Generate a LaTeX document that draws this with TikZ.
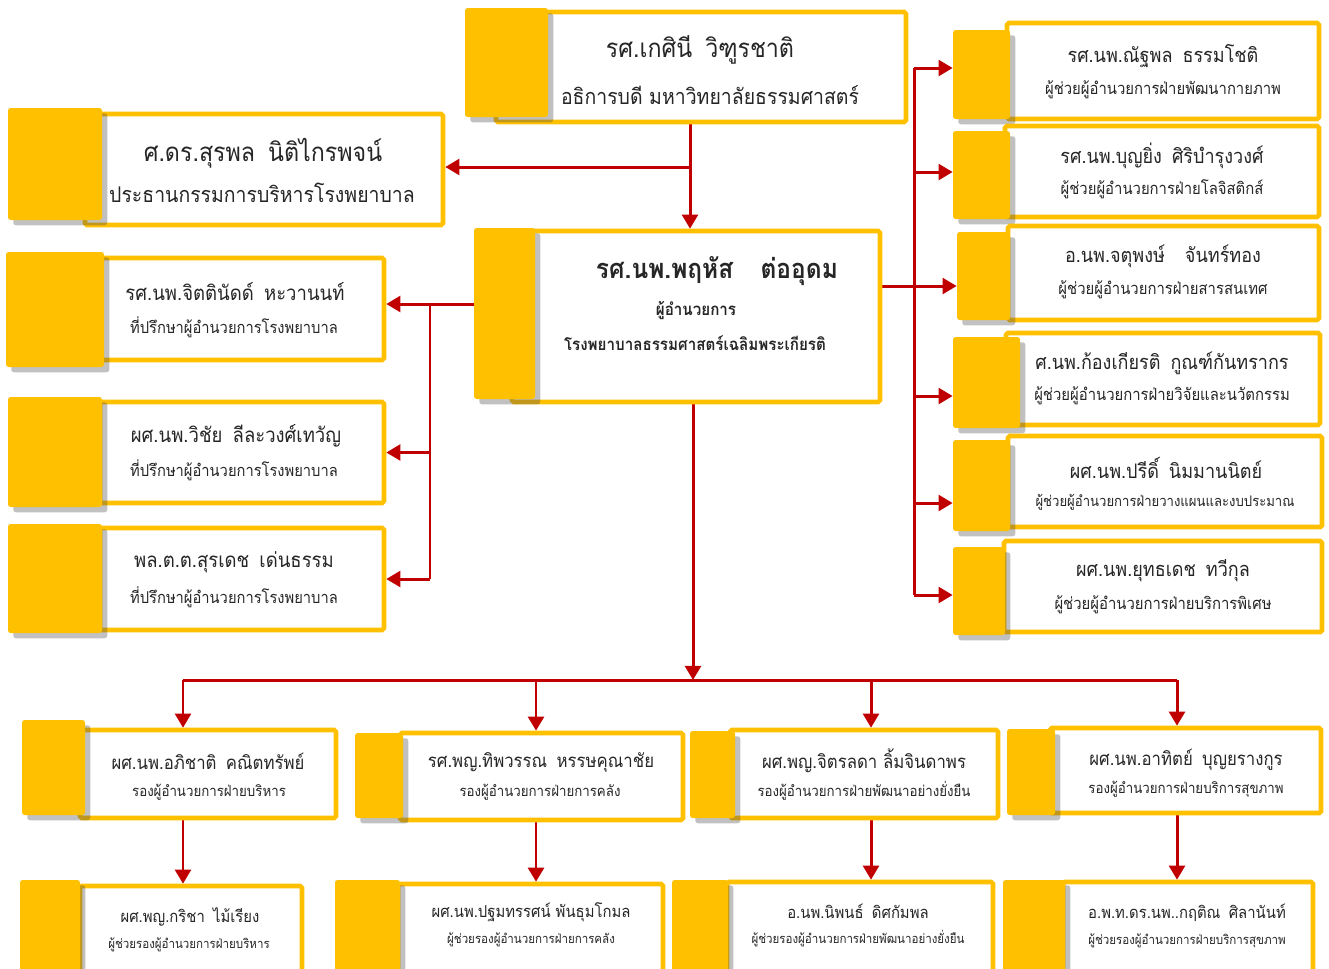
\documentclass[tikz,border=0pt]{standalone}
\usepackage{fontspec}
\newfontfamily\thaifont[Script=Thai, FakeStretch=0.9]{Loma}
\usetikzlibrary{fit, shadows, arrows.meta}

\pgfdeclarelayer{bg}
\pgfsetlayers{bg,main}

\definecolor{gold}{HTML}{FFC000}
\definecolor{linkred}{HTML}{C00000}

\tikzset{
    cardbox/.style={draw=gold, line width=2.6pt, fill=white, inner sep=0pt, rounded corners=1pt},
    tab/.style={fill=gold, inner sep=0pt, rounded corners=1.5pt,
        drop shadow={shadow xshift=3pt, shadow yshift=-3pt, opacity=0.35, fill=black!70}},
    link/.style={draw=linkred, line width=1.7pt, -{Triangle[length=8pt, width=9pt]}},
    trunk/.style={draw=linkred, line width=1.7pt},
    txt/.style={text=black!85, inner sep=0pt},
    hname/.style={txt, font=\thaifont\fontsize{14.7}{18}\selectfont},
    hsub/.style={txt, font=\thaifont\fontsize{12.3}{15}\selectfont},
    dname/.style={txt, font=\thaifont\bfseries\fontsize{15.5}{18}\selectfont},
    dsub/.style={txt, font=\thaifont\bfseries\fontsize{9.6}{12}\selectfont},
    aname/.style={txt, font=\thaifont\fontsize{11.7}{14}\selectfont},
    asub/.style={txt, font=\thaifont\fontsize{9.3}{11}\selectfont},
    rname/.style={txt, font=\thaifont\fontsize{11.4}{14}\selectfont},
    rsub/.style={txt, font=\thaifont\fontsize{9.4}{11}\selectfont},
    vname/.style={txt, font=\thaifont\fontsize{10.6}{13}\selectfont},
    vsub/.style={txt, font=\thaifont\fontsize{8.4}{10}\selectfont},
    pname/.style={txt, font=\thaifont\fontsize{9.4}{12}\selectfont},
    psub/.style={txt, font=\thaifont\fontsize{7.3}{9}\selectfont},
}

% card = white box with gold frame + gold tab on its left
\newcommand{\orgcard}[3]{%
    \node[cardbox, fit={#2}] (#1) {};
    \node[tab, fit={#3}] (#1t) {};
}
\newcommand{\gap}{\hspace{0.5em}}

\begin{document}
\begin{tikzpicture}[x=0.02cm, y=-0.02cm]

    \useasboundingbox (0,0) rectangle (1329,968);
    \clip (0,0) rectangle (1329,968);

    % ---- top: president, chair, director
    \orgcard{pres}{(496,12) (906,122)}{(465,8) (548,117)}
    \node[hname] (pres-n) at (700,50) {รศ.เกศินี\gap วิฑูรชาติ};
    \node[hsub] (pres-s) at (710,95) {อธิการบดี มหาวิทยาลัยธรรมศาสตร์};

    \orgcard{chair}{(85,114) (443,225)}{(8,108) (102,220)}
    \node[hname] (chair-n) at (263,153) {ศ.ดร.สุรพล\gap นิติไกรพจน์};
    \node[hsub] (chair-s) at (262,193) {ประธานกรรมการบริหารโรงพยาบาล};

    \orgcard{dir}{(512,231) (880,402)}{(474,228) (535,399)}
    \node[dname] (dir-n) at (717,271) {รศ.นพ.พฤหัส\gap\gap ต่ออุดม};
    \node[dsub] (dir-s1) at (696,311) {ผู้อำนวยการ};
    \node[dsub] (dir-s2) at (695,343) {โรงพยาบาลธรรมศาสตร์เฉลิมพระเกียรติ};

    % ---- advisors (left)
    \orgcard{adv1}{(100,258) (384,360)}{(6,252) (104,367)}
    \node[aname] (adv1-n) at (235,292) {รศ.นพ.จิตตินัดด์\gap หะวานนท์};
    \node[asub] (adv1-s) at (234,327) {ที่ปรึกษาผู้อำนวยการโรงพยาบาล};

    \orgcard{adv2}{(100,402) (384,503)}{(8,397) (102,507)}
    \node[aname] (adv2-n) at (236,436) {ผศ.นพ.วิชัย\gap ลีละวงศ์เทวัญ};
    \node[asub] (adv2-s) at (234,470) {ที่ปรึกษาผู้อำนวยการโรงพยาบาล};

    \orgcard{adv3}{(100,528) (384,630)}{(8,524) (102,633)}
    \node[aname] (adv3-n) at (234,562) {พล.ต.ต.สุรเดช\gap เด่นธรรม};
    \node[asub] (adv3-s) at (234,597) {ที่ปรึกษาผู้อำนวยการโรงพยาบาล};

    % ---- assistants (right)
    \orgcard{ast1}{(1007,23) (1319,119)}{(953,30) (1010,119)}
    \node[rname] (ast1-n) at (1163,56) {รศ.นพ.ณัฐพล\gap ธรรมโชติ};
    \node[rsub] (ast1-s) at (1163,90) {ผู้ช่วยผู้อำนวยการฝ่ายพัฒนากายภาพ};

    \orgcard{ast2}{(1005,126) (1319,217)}{(953,131) (1010,219)}
    \node[rname] (ast2-n) at (1162,156) {รศ.นพ.บุญยิ่ง\gap ศิริบำรุงวงศ์};
    \node[rsub] (ast2-s) at (1162,189) {ผู้ช่วยผู้อำนวยการฝ่ายโลจิสติกส์};

    \orgcard{ast3}{(1008,226) (1319,320)}{(957,232) (1010,320)}
    \node[rname] (ast3-n) at (1163,256) {อ.นพ.จตุพงษ์\gap\gap จันทร์ทอง};
    \node[rsub] (ast3-s) at (1163,290) {ผู้ช่วยผู้อำนวยการฝ่ายสารสนเทศ};

    \orgcard{ast4}{(1006,333) (1320,425)}{(953,337) (1020,428)}
    \node[rname] (ast4-n) at (1162,363) {ศ.นพ.ก้องเกียรติ\gap กูณฑ์กันทรากร};
    \node[rsub] (ast4-s) at (1162,396) {ผู้ช่วยผู้อำนวยการฝ่ายวิจัยและนวัตกรรม};

    \orgcard{ast5}{(1008,436) (1322,527)}{(953,440) (1010,531)}
    \node[rname] (ast5-n) at (1166,468) {ผศ.นพ.ปรีดิ์\gap นิมมานนิตย์};
    \node[rsub, font=\thaifont\fontsize{8.3}{10}\selectfont] (ast5-s) at (1165,502) {ผู้ช่วยผู้อำนวยการฝ่ายวางแผนและงบประมาณ};

    \orgcard{ast6}{(1004,541) (1322,632)}{(953,547) (1005,635)}
    \node[rname] (ast6-n) at (1163,571) {ผศ.นพ.ยุทธเดช\gap ทวีกุล};
    \node[rsub] (ast6-s) at (1163,605) {ผู้ช่วยผู้อำนวยการฝ่ายบริการพิเศษ};

    % ---- deputies
    \orgcard{dep1}{(80,730) (336,818)}{(22,720) (85,815)}
    \node[vname] (dep1-n) at (208,761) {ผศ.นพ.อภิชาติ\gap คณิตทรัพย์};
    \node[vsub] (dep1-s) at (209,792) {รองผู้อำนวยการฝ่ายบริหาร};

    \orgcard{dep2}{(400,733) (683,820)}{(355,733) (403,818)}
    \node[vname] (dep2-n) at (541,762) {รศ.พญ.ทิพวรรณ\gap หรรษคุณาชัย};
    \node[vsub] (dep2-s) at (540,792) {รองผู้อำนวยการฝ่ายการคลัง};

    \orgcard{dep3}{(730,730) (998,818)}{(690,731) (735,818)}
    \node[vname] (dep3-n) at (864,761) {ผศ.พญ.จิตรลดา ลิ้มจินดาพร};
    \node[vsub] (dep3-s) at (864,791) {รองผู้อำนวยการฝ่ายพัฒนาอย่างยั่งยืน};

    \orgcard{dep4}{(1050,728) (1321,813)}{(1007,729) (1055,815)}
    \node[vname] (dep4-n) at (1186,760) {ผศ.นพ.อาทิตย์\gap บุญยรางกูร};
    \node[vsub] (dep4-s) at (1186,789) {รองผู้อำนวยการฝ่ายบริการสุขภาพ};

    % ---- deputy assistants (cut by the page edge)
    \orgcard{sub1}{(80,886) (302,990)}{(20,880) (80,990)}
    \node[pname] (sub1-n) at (190,917) {ผศ.พญ.กริชา\gap ไม้เรียง};
    \node[psub] (sub1-s) at (189,945) {ผู้ช่วยรองผู้อำนวยการฝ่ายบริหาร};

    \orgcard{sub2}{(398,884) (663,990)}{(335,880) (400,990)}
    \node[pname] (sub2-n) at (531,912) {ผศ.นพ.ปฐมทรรศน์ พันธุมโกมล};
    \node[psub] (sub2-s) at (531,940) {ผู้ช่วยรองผู้อำนวยการฝ่ายการคลัง};

    \orgcard{sub3}{(727,882) (993,990)}{(672,880) (728,990)}
    \node[pname] (sub3-n) at (858,911) {อ.นพ.นิพนธ์\gap ดิศกัมพล};
    \node[psub] (sub3-s) at (858,939) {ผู้ช่วยรองผู้อำนวยการฝ่ายพัฒนาอย่างยั่งยืน};

    \orgcard{sub4}{(1063,882) (1313,990)}{(1003,880) (1065,990)}
    \node[pname] (sub4-n) at (1187,913) {อ.พ.ท.ดร.นพ..กฤติณ\gap ศิลานันท์};
    \node[psub] (sub4-s) at (1187,941) {ผู้ช่วยรองผู้อำนวยการฝ่ายบริการสุขภาพ};

    % ---- connectors (behind the cards)
    \begin{pgfonlayer}{bg}
        \coordinate (jtop) at (690,167);
        \coordinate (jleft) at (430,304);
        \coordinate (jright) at (914,286);
        \coordinate (jdown) at (693,680);
        \foreach \i/\x in {1/183, 2/536, 3/871, 4/1177}
            \coordinate (jb\i) at (\x,680);

        \draw[link] (pres.south -| jtop) -- (dir.north -| jtop);
        \draw[link] (jtop) -- (chair.east |- jtop);

        \draw[link] (dir.west |- jleft) -- (adv1.east |- jleft);
        \draw[trunk] (jleft) -- (jleft |- adv3.east);
        \draw[link] (jleft |- adv2.east) -- (adv2.east);
        \draw[link] (jleft |- adv3.east) -- (adv3.east);

        \draw[link] (dir.east |- jright) -- (ast3t.west |- jright);
        \draw[trunk] (jright |- 0,68) -- (jright |- 0,595);
        \foreach \k/\y in {1/68, 2/172, 4/396, 5/503, 6/595}
            \draw[link] (jright |- 0,\y) -- (ast\k t.west |- 0,\y);

        \draw[link] (dir.south -| jdown) -- (jdown);
        \draw[trunk] (jb1) -- (jb4);
        \foreach \i in {1,...,4} {
            \draw[link] (jb\i) -- (jb\i |- dep\i.north);
            \draw[link] (dep\i.south -| jb\i) -- (sub\i.north -| jb\i);
        }
    \end{pgfonlayer}

\end{tikzpicture}
\end{document}
